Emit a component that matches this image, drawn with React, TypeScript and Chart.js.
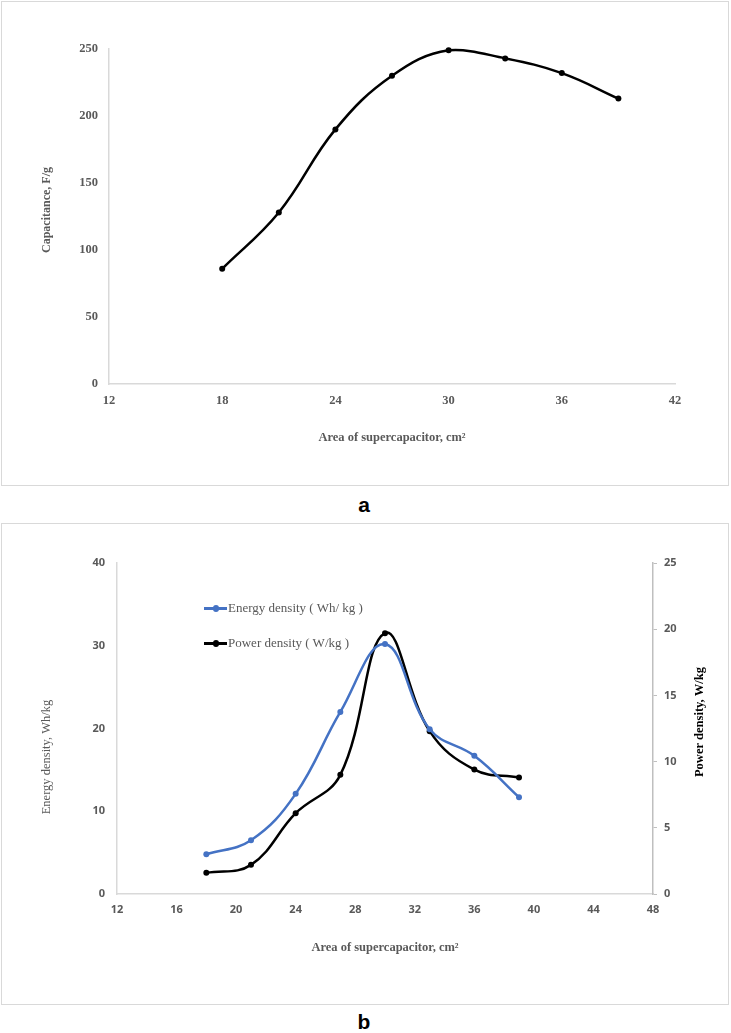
import React, { useEffect, useRef } from "react";
import { Chart, registerables } from "chart.js";

Chart.register(...registerables);

// ---- Data (panel a) ----
const areaA = [18, 21, 24, 27, 30, 33, 36, 39];
const capacitance = [86, 128, 190, 230, 249, 243, 232, 213];
const xTicksA = [12, 18, 24, 30, 36, 42];
const yTicksA = [0, 50, 100, 150, 200, 250];

// ---- Data (panel b) ----
const areaB = [18, 21, 24, 27, 30, 33, 36, 39];
const energyDensity = [4.8, 6.5, 12.1, 22.0, 30.2, 19.9, 16.7, 11.7];
const powerDensity = [1.6, 2.2, 6.1, 9.0, 19.7, 12.3, 9.4, 8.8];
const xTicksB = [12, 16, 20, 24, 28, 32, 36, 40, 44, 48];
const yLeftTicksB = [0, 10, 20, 30, 40];
const yRightTicksB = [0, 5, 10, 15, 20, 25];

const SERIF = '"Liberation Serif", "Times New Roman", serif';
const SANS = '"Noto Sans", "Liberation Sans", Arial, sans-serif';
const GRAY = "#595959";
const AXIS = "#d9d9d9";
const BLUE = "#4472C4";

const setTicks = (vals: number[]) => (s: any) => {
  s.ticks = vals.map((v) => ({ value: v }));
};

const verticalTitles = (items: { text: string; x: number; y: number; font: string; color: string }[]) => ({
  id: "verticalTitles",
  afterDraw(chart: any) {
    const ctx = chart.ctx;
    items.forEach((t) => {
      ctx.save();
      ctx.translate(t.x, t.y);
      ctx.rotate(-Math.PI / 2);
      ctx.font = t.font;
      ctx.fillStyle = t.color;
      ctx.textAlign = "center";
      ctx.textBaseline = "middle";
      ctx.fillText(t.text, 0, 0);
      ctx.restore();
    });
  },
});

function ChartA() {
  const ref = useRef<HTMLCanvasElement>(null);
  useEffect(() => {
    const chart = new Chart(ref.current!, {
      type: "scatter",
      data: {
        datasets: [
          {
            label: "Capacitance",
            data: areaA.map((x, i) => ({ x, y: capacitance[i] })),
            showLine: true,
            borderColor: "#000000",
            backgroundColor: "#000000",
            borderWidth: 2.5,
            pointRadius: 3,
            pointBorderWidth: 0,
            tension: 0.4,
            clip: false,
          } as any,
        ],
      },
      options: {
        animation: false,
        responsive: false,
        maintainAspectRatio: false,
        devicePixelRatio: 1,
        layout: { padding: { left: 0, top: 49, right: 56, bottom: 0 } },
        plugins: { legend: { display: false }, tooltip: { enabled: false } },
        scales: {
          x: {
            type: "linear",
            min: 12,
            max: 42,
            afterBuildTicks: setTicks(xTicksA),
            afterFit: (s: any) => {
              s.height = 104;
            },
            grid: { display: false, drawTicks: false },
            border: { display: true, color: AXIS, width: 1.5 },
            ticks: {
              padding: 9,
              color: GRAY,
              maxRotation: 0,
              autoSkip: false,
              font: { family: SERIF, size: 12.5, weight: "bold" },
            },
            title: {
              display: true,
              text: "Area of supercapacitor, cm²",
              color: GRAY,
              font: { family: SERIF, size: 12.5, weight: "bold" },
              padding: { top: 0, bottom: 42.5 },
            },
          },
          y: {
            type: "linear",
            min: 0,
            max: 250,
            afterBuildTicks: setTicks(yTicksA),
            afterFit: (s: any) => {
              s.width = 109;
            },
            grid: { display: false, drawTicks: false },
            border: { display: true, color: AXIS, width: 1.5 },
            ticks: {
              padding: 11,
              color: GRAY,
              font: { family: SERIF, size: 12.5, weight: "bold" },
            },
          },
        },
      } as any,
      plugins: [
        verticalTitles([
          { text: "Capacitance, F/g", x: 47, y: 210, font: `bold 12px ${SERIF}`, color: GRAY },
        ]),
      ],
    });
    return () => chart.destroy();
  }, []);
  return <canvas ref={ref} width={731} height={488} style={{ position: "absolute", left: 0, top: 0, width: 731, height: 488 }} />;
}

function ChartB() {
  const ref = useRef<HTMLCanvasElement>(null);
  useEffect(() => {
    const chart = new Chart(ref.current!, {
      type: "scatter",
      data: {
        datasets: [
          {
            label: "Energy density ( Wh/ kg )",
            data: areaB.map((x, i) => ({ x, y: energyDensity[i] })),
            yAxisID: "y",
            showLine: true,
            borderColor: BLUE,
            backgroundColor: BLUE,
            borderWidth: 2.5,
            pointRadius: 3,
            pointBorderWidth: 0,
            tension: 0.4,
            clip: false,
          } as any,
          {
            label: "Power density ( W/kg )",
            data: areaB.map((x, i) => ({ x, y: powerDensity[i] })),
            yAxisID: "y1",
            showLine: true,
            borderColor: "#000000",
            backgroundColor: "#000000",
            borderWidth: 2.5,
            pointRadius: 3,
            pointBorderWidth: 0,
            tension: 0.4,
            clip: false,
          } as any,
        ],
      },
      options: {
        animation: false,
        responsive: false,
        maintainAspectRatio: false,
        devicePixelRatio: 1,
        layout: { padding: { left: 0, top: 39, right: 0, bottom: 0 } },
        plugins: { legend: { display: false }, tooltip: { enabled: false } },
        scales: {
          x: {
            type: "linear",
            min: 12,
            max: 48,
            afterBuildTicks: setTicks(xTicksB),
            afterFit: (s: any) => {
              s.height = 114;
            },
            grid: { display: false, drawTicks: false },
            border: { display: true, color: AXIS, width: 1.5 },
            ticks: {
              padding: 9,
              color: GRAY,
              maxRotation: 0,
              autoSkip: false,
              font: { family: SANS, size: 11, weight: "bold" },
            },
            title: {
              display: true,
              text: "Area of supercapacitor, cm²",
              color: GRAY,
              font: { family: SERIF, size: 12.5, weight: "bold" },
              padding: { top: 0, bottom: 52.5 },
            },
          },
          y: {
            type: "linear",
            position: "left",
            min: 0,
            max: 40,
            afterBuildTicks: setTicks(yLeftTicksB),
            afterFit: (s: any) => {
              s.width = 117;
            },
            grid: { display: false, drawTicks: false },
            border: { display: true, color: AXIS, width: 1.5 },
            ticks: {
              padding: 12,
              color: GRAY,
              font: { family: SANS, size: 11, weight: "bold" },
            },
          },
          y1: {
            type: "linear",
            position: "right",
            min: 0,
            max: 25,
            afterBuildTicks: setTicks(yRightTicksB),
            afterFit: (s: any) => {
              s.width = 78;
            },
            grid: { display: true, drawOnChartArea: false, drawTicks: true, tickLength: 4, color: "#bfbfbf", lineWidth: 1 },
            border: { display: true, color: "#bfbfbf", width: 1.5 },
            ticks: {
              padding: 7,
              color: GRAY,
              font: { family: SANS, size: 11, weight: "bold" },
            },
          },
        },
      } as any,
      plugins: [
        verticalTitles([
          { text: "Energy density, Wh/kg", x: 47, y: 233, font: `12.5px ${SERIF}`, color: GRAY },
          { text: "Power density, W/kg", x: 700, y: 198, font: `bold 12.5px ${SERIF}`, color: "#000000" },
        ]),
      ],
    });
    return () => chart.destroy();
  }, []);
  return <canvas ref={ref} width={731} height={484} style={{ position: "absolute", left: 0, top: 524, width: 731, height: 484 }} />;
}

function LegendItem({ color, label, top }: { color: string; label: string; top: number }) {
  return (
    <div style={{ position: "absolute", left: 204, top: top - 9, height: 18, display: "flex", alignItems: "center" }}>
      <div style={{ position: "relative", width: 23, height: 18 }}>
        <div style={{ position: "absolute", left: 0, top: 8, width: 23, height: 2.5, background: color }} />
        <div style={{ position: "absolute", left: 8.5, top: 6, width: 6.5, height: 6.5, borderRadius: "50%", background: color }} />
      </div>
      <span style={{ fontFamily: SERIF, fontSize: 13, color: GRAY, whiteSpace: "pre", marginLeft: 1 }}>{label}</span>
    </div>
  );
}

export default function App() {
  return (
    <div style={{ position: "absolute", left: 0, top: 0, width: 731, height: 1033, background: "#ffffff", overflow: "hidden" }}>
      <div style={{ position: "absolute", left: 1, top: 1, width: 728, height: 485, border: `1px solid ${AXIS}`, boxSizing: "border-box" }} />
      <div style={{ position: "absolute", left: 1, top: 523, width: 728, height: 482, border: `1px solid ${AXIS}`, boxSizing: "border-box" }} />
      <ChartA />
      <ChartB />
      <LegendItem color={BLUE} label="Energy density ( Wh/ kg )" top={608} />
      <LegendItem color="#000000" label="Power density ( W/kg )" top={643} />
      <div style={{ position: "absolute", left: 344, width: 40, top: 491, textAlign: "center", fontFamily: '"Liberation Sans", Arial, sans-serif', fontWeight: "bold", fontSize: 21, lineHeight: "28px", color: "#000" }}>a</div>
      <div style={{ position: "absolute", left: 344, width: 40, top: 1008, textAlign: "center", fontFamily: '"Liberation Sans", Arial, sans-serif', fontWeight: "bold", fontSize: 21, lineHeight: "28px", color: "#000" }}>b</div>
    </div>
  );
}
